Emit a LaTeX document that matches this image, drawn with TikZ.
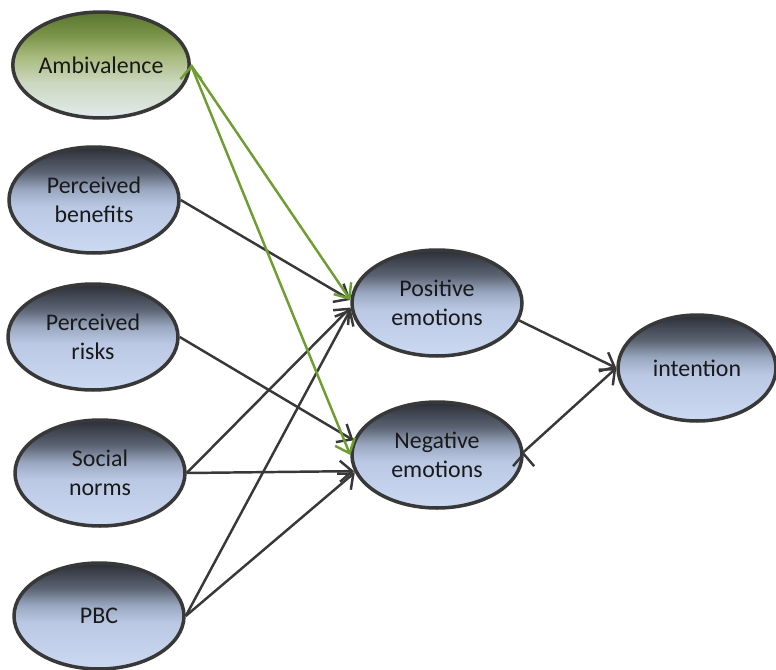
\documentclass[tikz,border=0pt]{standalone}
\usepackage{fontspec}
\setmainfont{Carlito}
\usepackage{tikz}
\usetikzlibrary{shapes.geometric, arrows.meta, positioning, calc}
\definecolor{linegray}{HTML}{383838}
\definecolor{ambgreen}{HTML}{6E9E32}
\definecolor{bluetop}{HTML}{2A2E36}
\definecolor{bluedark}{HTML}{5C6474}
\definecolor{bluemid}{HTML}{9AA7C0}
\definecolor{bluelight}{HTML}{BAC8E4}
\definecolor{bluebot}{HTML}{CBD9F2}
\definecolor{greentop}{HTML}{5A7530}
\definecolor{greendark}{HTML}{7A9448}
\definecolor{greenmid}{HTML}{A8BA7E}
\definecolor{greenlight}{HTML}{CBD7BE}
\definecolor{greenbot}{HTML}{E2EBEE}
\pgfdeclareverticalshading{latentshade}{100bp}{color(0bp)=(bluebot); color(25bp)=(bluebot); color(47bp)=(bluelight); color(55bp)=(bluemid); color(63bp)=(bluedark); color(75bp)=(bluetop); color(100bp)=(bluetop)}
\pgfdeclareverticalshading{ambshade}{100bp}{color(0bp)=(greenbot); color(25bp)=(greenbot); color(42bp)=(greenlight); color(54bp)=(greenmid); color(64bp)=(greendark); color(75bp)=(greentop); color(100bp)=(greentop)}
\tikzstyle{link} = [line width=1.4pt, draw=linegray, -{Straight Barb[length=7pt,width=12pt,line width=1.4pt]}]
\tikzstyle{amblink} = [link, draw=ambgreen, -{Straight Barb[length=7pt,width=12pt,line width=1.4pt,color=ambgreen]}]
\tikzstyle{latent} = [ellipse, minimum width=3.4cm, minimum height=2.12cm, inner sep=0pt, align=center, draw=linegray, line width=2pt, shading=latentshade, text=black!90, font=\fontsize{13.6}{16.5}\selectfont]
\tikzstyle{ambstate} = [latent, shading=ambshade]

\begin{document}
\begin{tikzpicture}[x=0.02cm,y=-0.02cm]
	\useasboundingbox (0,0) rectangle (776,669);
	\node[ambstate](amb) at (101,65) {Ambivalence};
	\node[latent](ben) at (94,200) {Perceived\\ benefits};
	\node[latent](risk) at (93,337) {Perceived\\ risks};
	\node[latent](norm) at (100,473) {Social\\ norms};
	\node[latent](pbc) at (99,616) {PBC};
	\node[latent](pos) at (437,303) {Positive\\ emotions};
	\node[latent](neg) at (437,455) {Negative\\ emotions};
	\node[latent,minimum width=3.16cm](int) at (697,368) {intention};
	\path[link]
	(ben.east) edge (pos.178)
	(risk.east) edge (neg.170)
	(norm.east) edge (pos.183)
	(norm.east) edge (neg.191)
	(pbc.east) edge (pos.184)
	(pbc.east) edge (neg.192)
	(pos.-12) edge (int.west)
	(neg.2) edge (int.west);
	\path[amblink]
	(amb.east) edge (pos.178)
	(amb.east) edge (neg.west);
\end{tikzpicture}
\end{document}
